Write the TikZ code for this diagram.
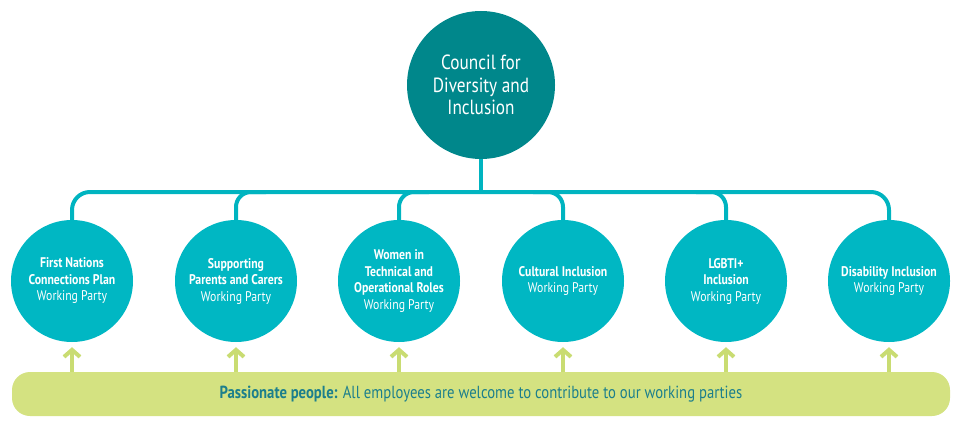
\documentclass[tikz,border=0pt]{standalone}
\usepackage{fontspec}
\setmainfont[FakeStretch=0.84]{PT Sans}
\usetikzlibrary{arrows.meta,calc}
\definecolor{darkteal}{HTML}{00878B}
\definecolor{cyanc}{HTML}{00B7C3}
\definecolor{barc}{HTML}{00B4C0}
\definecolor{lime}{HTML}{D4E281}
\definecolor{limearrow}{HTML}{C9DC72}
\definecolor{tealtext}{HTML}{1C7F8C}
\begin{document}
\begin{tikzpicture}[x=1pt,y=-1pt,
  topcircle/.style={circle,fill=darkteal,minimum size=148pt,inner sep=0pt,text=white,align=center,font=\fontsize{20.5}{22.5}\selectfont},
  wpcircle/.style={circle,fill=cyanc,minimum size=122pt,inner sep=0pt,text=white,align=center,font=\fontsize{14}{16.5}\selectfont},
  link/.style={draw=barc,line width=4pt},
  up/.style={draw=limearrow,line width=4pt,-{Straight Barb[length=7pt,width=16pt]}},
  band/.style={rectangle,rounded corners=18pt,fill=lime,minimum width=938pt,minimum height=44pt,inner sep=0pt},
  bandtext/.style={text=tealtext,font=\fontsize{17.5}{20}\selectfont}
]
\useasboundingbox (0,0) rectangle (960,422);
\node[topcircle] (top) at (481,85) {Council for\\Diversity and\\Inclusion};
\coordinate (hub) at (481,192);
\node[wpcircle] (c1) at (72,281) {\textbf{First Nations}\\\textbf{Connections Plan}\\Working Party};
\node[wpcircle] (c2) at (236,281) {\textbf{Supporting}\\\textbf{Parents and Carers}\\Working Party};
\node[wpcircle] (c3) at (399,281) {\textbf{Women in}\\\textbf{Technical and}\\\textbf{Operational Roles}\\Working Party};
\node[wpcircle] (c4) at (563,281) {\textbf{Cultural Inclusion}\\Working Party};
\node[wpcircle] (c5) at (726,281) {\textbf{LGBTI+}\\\textbf{Inclusion}\\Working Party};
\node[wpcircle] (c6) at (889,281) {\textbf{Disability Inclusion}\\Working Party};
\node[band] (band) at (481,394) {};
\node[bandtext] (bt) at (band.center) {\textbf{Passionate people:} All employees are welcome to contribute to our working parties};
% connectors
\draw[link] (top.south) -- (hub);
\draw[link,rounded corners=18pt] (c1.north) -- (c1.north |- hub) -- (c6.north |- hub) -- (c6.north);
\draw[link,rounded corners=15pt] (c2.north) -- (c2.north |- hub) -- ($(c2.north |- hub)+(30,0)$);
\draw[link,rounded corners=15pt] (c3.north) -- (c3.north |- hub) -- ($(c3.north |- hub)+(30,0)$);
\draw[link,rounded corners=15pt] (c4.north) -- (c4.north |- hub) -- ($(c4.north |- hub)+(-30,0)$);
\draw[link,rounded corners=15pt] (c5.north) -- (c5.north |- hub) -- ($(c5.north |- hub)+(-30,0)$);
% arrows
\foreach \c in {c1,c2,c3,c4,c5,c6}{
  \draw[up,shorten >=5pt] (\c.south |- band.north) -- (\c.south);
}
\end{tikzpicture}
\end{document}
